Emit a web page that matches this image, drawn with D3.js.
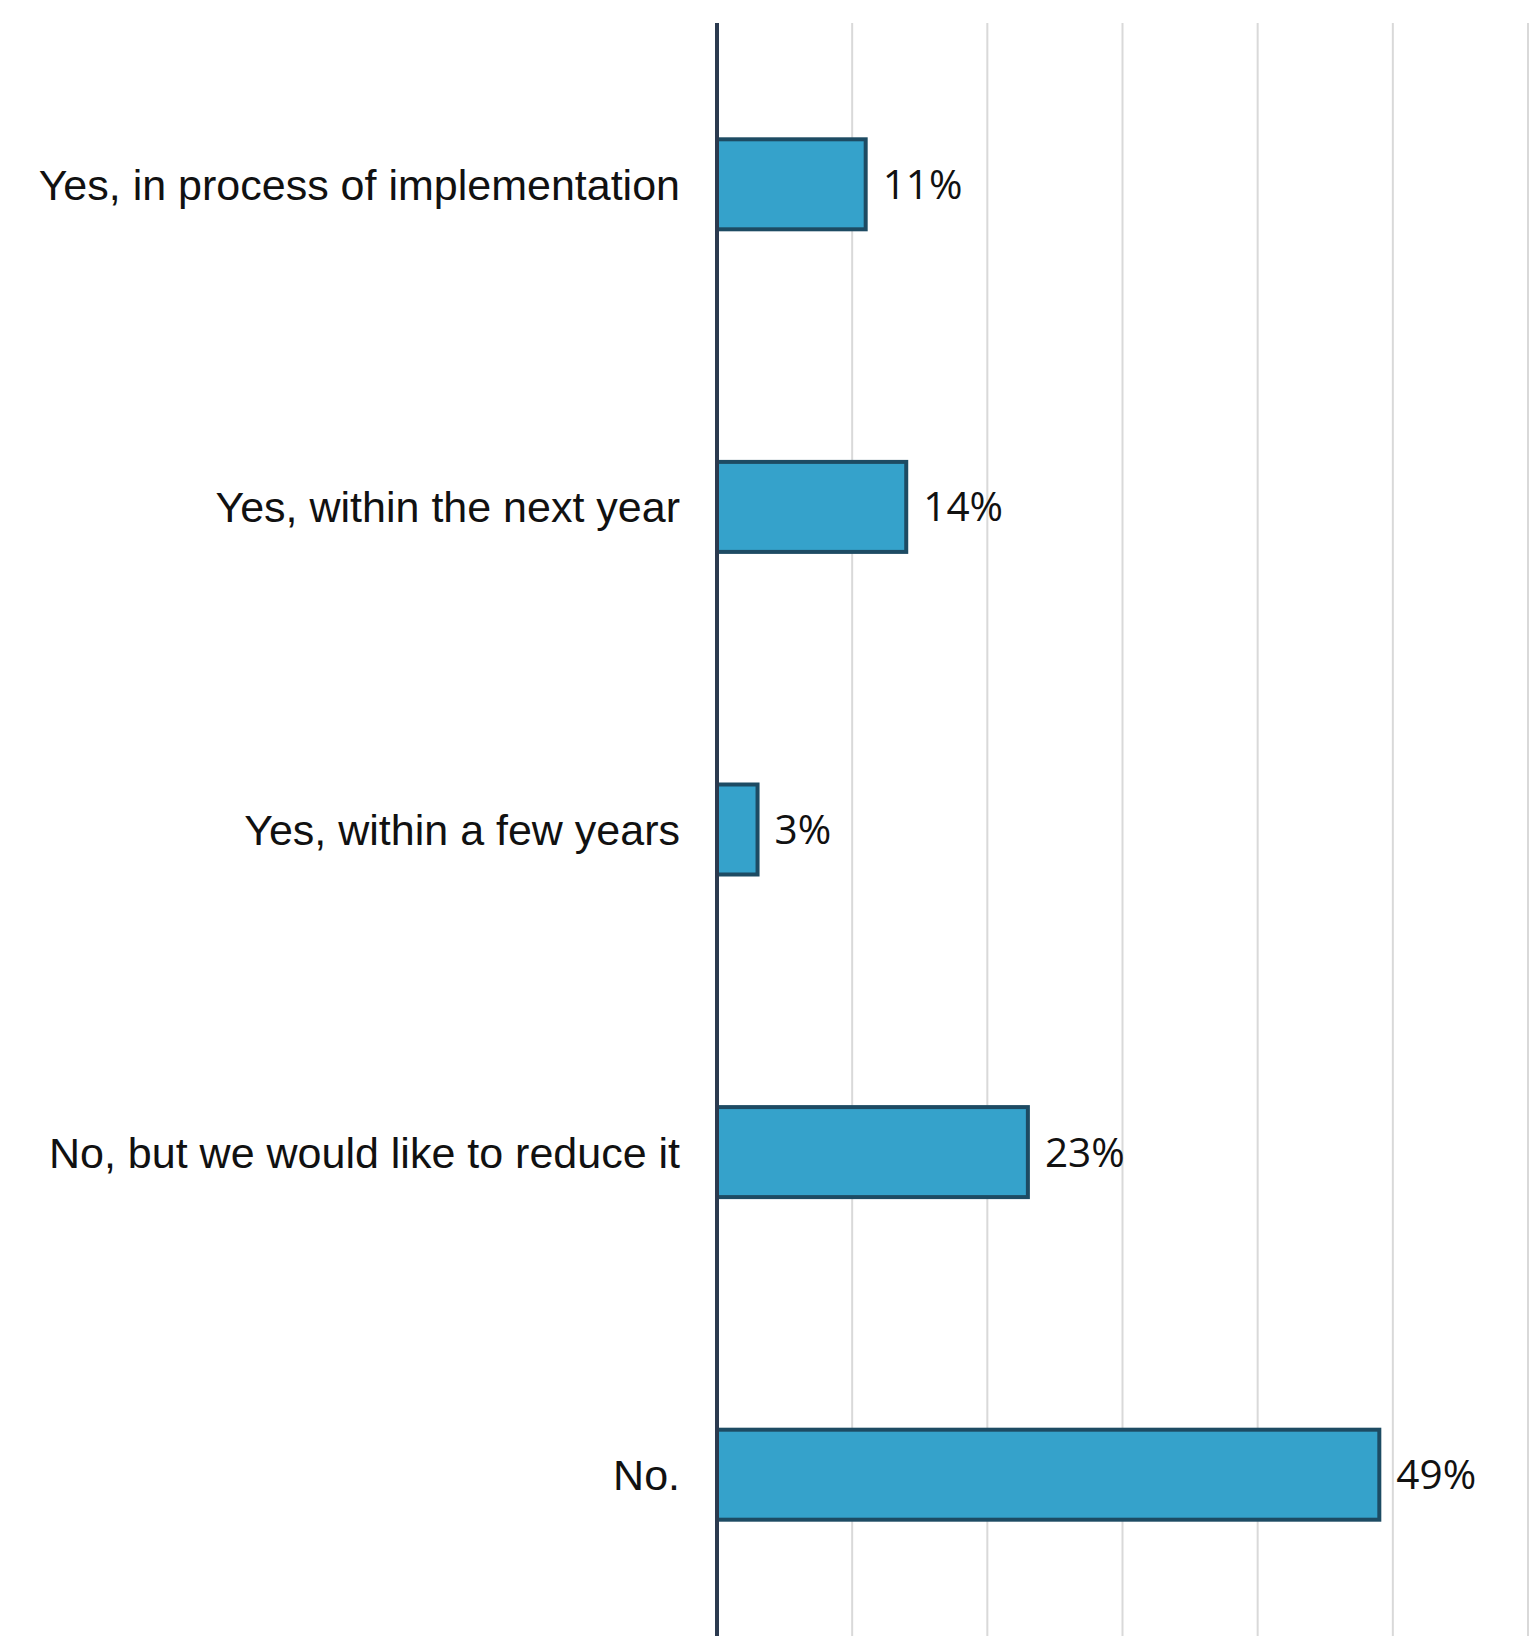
<!DOCTYPE html>
<html>
<head>
<meta charset="utf-8">
<script src="https://cdn.jsdelivr.net/npm/d3@7"></script>
<style>
  html, body { margin: 0; padding: 0; background: #ffffff; }
  svg { display: block; }
</style>
</head>
<body>
<svg id="chart"></svg>
<script>
// Survey answers and their shares (percent)
const categories = [
  "Yes, in process of implementation",
  "Yes, within the next year",
  "Yes, within a few years",
  "No, but we would like to reduce it",
  "No."
];
const values = [11, 14, 3, 23, 49];
const gridTicks = [0, 10, 20, 30, 40, 50, 60];

const width = 1538, height = 1636;
const margin = { top: 23, right: 10, bottom: 0, left: 717 };

const svg = d3.select("#chart").attr("width", width).attr("height", height);

const x = d3.scaleLinear()
  .domain([0, 60])
  .range([margin.left, width - margin.right]);

const y = d3.scaleBand()
  .domain(categories)
  .range([margin.top, height - margin.bottom])
  .paddingInner(0.721)
  .paddingOuter(0.3605);

// vertical gridlines
svg.append("g")
  .selectAll("line")
  .data(gridTicks.filter(d => d > 0))
  .join("line")
  .attr("x1", d => x(d)).attr("x2", d => x(d))
  .attr("y1", margin.top).attr("y2", height)
  .attr("stroke", "#d9d9d9")
  .attr("stroke-width", 2);

// bars
svg.append("g")
  .selectAll("rect")
  .data(categories)
  .join("rect")
  .attr("x", x(0))
  .attr("y", d => y(d))
  .attr("width", (d, i) => x(values[i]) - x(0))
  .attr("height", y.bandwidth())
  .attr("fill", "#35a2cb")
  .attr("stroke", "#1d4b63")
  .attr("stroke-width", 4);

// value labels
svg.append("g")
  .selectAll("text")
  .data(categories)
  .join("text")
  .attr("x", (d, i) => x(values[i]) + 17)
  .attr("y", d => y(d) + y.bandwidth() / 2)
  .attr("dy", "0.36em")
  .attr("font-family", "'Open Sans', 'Noto Sans', sans-serif")
  .attr("font-size", 40.5)
  .attr("fill", "#111111")
  .text((d, i) => values[i] + "%");

// category labels
svg.append("g")
  .selectAll("text")
  .data(categories)
  .join("text")
  .attr("x", x(0) - 37)
  .attr("y", d => y(d) + y.bandwidth() / 2)
  .attr("dy", "0.36em")
  .attr("text-anchor", "end")
  .attr("font-family", "'Liberation Sans', Arial, sans-serif")
  .attr("font-size", 43)
  .attr("fill", "#111111")
  .text(d => d);

// baseline axis
svg.append("line")
  .attr("x1", x(0)).attr("x2", x(0))
  .attr("y1", margin.top).attr("y2", height)
  .attr("stroke", "#2b3a4f")
  .attr("stroke-width", 4);
</script>
</body>
</html>
